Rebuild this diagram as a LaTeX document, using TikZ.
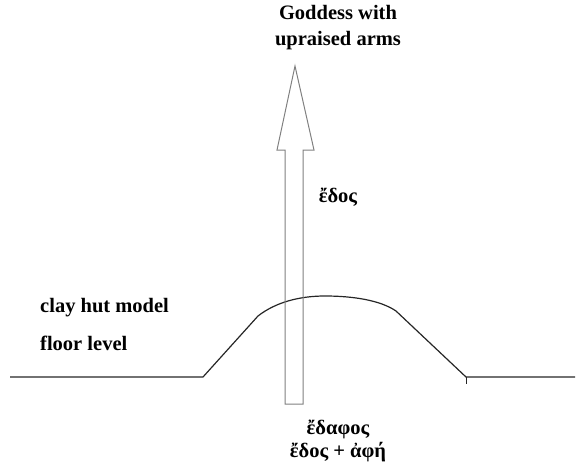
\documentclass[tikz,border=0pt]{standalone}
\usepackage{fontspec}
\setmainfont{Liberation Serif}
\begin{document}
\begin{tikzpicture}[x=1pt,y=-1pt,
  lbl/.style={font=\fontsize{20.5}{26}\selectfont\bfseries, inner sep=0pt},
  ground/.style={draw=black!85, line width=1.2pt, line join=round},
  arrowshape/.style={draw=black!50, line width=1pt, line join=miter}]
\useasboundingbox (0,0) rectangle (582,463);
% ground / hut profile
\coordinate (g0) at (10,377);
\coordinate (g1) at (203,377);
\coordinate (g2) at (258,316);
\coordinate (g3) at (325,296);
\coordinate (g4) at (396,311);
\coordinate (g5) at (466,377);
\coordinate (g6) at (575,377);
\coordinate (tk) at (466,384);
\draw[ground] (g0) -- (g1) -- (g2) .. controls (276,302) and (300,296) .. (g3)
  .. controls (352,296) and (380,300) .. (g4) -- (g5) -- (g6);
\draw[ground, line width=1pt] (g5) -- (tk);
% arrow
\draw[arrowshape] (285,404) -- (285,150) -- (277,150) -- (295,66) -- (314,150)
  -- (303,150) -- (303,404) -- cycle;
% labels
\node[lbl, align=center] (god) at (338,28) {Goddess with\\upraised arms};
\node[lbl] (edos) at (338,197) {ἔδος};
\node[lbl, anchor=west] (clay) at (40,308) {clay hut model};
\node[lbl, anchor=west] (floor) at (40,343) {floor level};
\node[lbl] (edaphos) at (338,429) {ἔδαφος};
\node[lbl] (sum) at (338,452) {ἔδος + ἀφή};
\end{tikzpicture}
\end{document}
